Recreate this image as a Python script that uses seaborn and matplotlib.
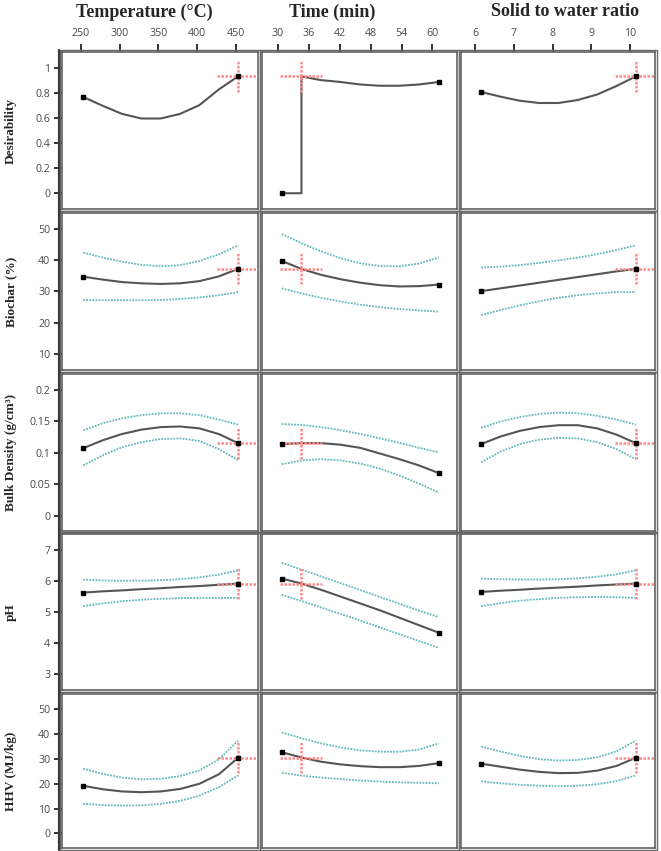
import numpy as np
import pandas as pd
import matplotlib
matplotlib.use("Agg")
import matplotlib.pyplot as plt
import seaborn as sns
from matplotlib.patches import Rectangle
from matplotlib.lines import Line2D

# --- factor settings (x grids) ---
temp_x = [253, 278, 303, 328, 353, 378, 403, 428, 453]
time_x = [30.8, 34.6, 38.4, 42.2, 46.0, 49.8, 53.6, 57.4, 61.2]
ratio_x = [6.15, 6.65, 7.15, 7.65, 8.15, 8.65, 9.15, 9.65, 10.15]
time_desir_x = [30.8, 34.6, 34.6, 38.4, 42.2, 46.0, 49.8, 53.6, 57.4, 61.2]

# --- Desirability ---
desir_temp = [0.77, 0.70, 0.635, 0.598, 0.598, 0.635, 0.705, 0.83, 0.935]
desir_time = [0.0, 0.0, 0.935, 0.905, 0.89, 0.87, 0.86, 0.86, 0.87, 0.89]
desir_ratio = [0.81, 0.773, 0.74, 0.722, 0.722, 0.746, 0.79, 0.858, 0.935]

# --- Biochar (%) ---
biochar_temp = [34.7, 33.8, 33.0, 32.6, 32.4, 32.6, 33.3, 34.8, 37.2]
biochar_temp_hi = [42.4, 40.8, 39.5, 38.5, 38.0, 38.4, 39.7, 41.8, 44.7]
biochar_temp_lo = [27.3, 27.2, 27.2, 27.2, 27.3, 27.6, 28.1, 28.8, 29.8]
biochar_time = [39.7, 37.2, 35.3, 33.9, 32.8, 32.0, 31.6, 31.7, 32.2]
biochar_time_hi = [48.3, 45.4, 42.8, 40.6, 39.0, 38.1, 38.0, 38.9, 40.8]
biochar_time_lo = [31.0, 29.4, 28.0, 26.8, 25.8, 25.0, 24.4, 24.0, 23.6]
biochar_ratio = [30.1, 31.0, 31.9, 32.8, 33.7, 34.6, 35.5, 36.4, 37.2]
biochar_ratio_hi = [37.6, 37.9, 38.4, 39.1, 39.9, 40.8, 41.9, 43.2, 44.7]
biochar_ratio_lo = [22.5, 24.1, 25.6, 26.9, 28.0, 28.8, 29.4, 29.8, 29.8]

# --- Bulk density (g/cm3) ---
bd_temp = [0.1075, 0.120, 0.130, 0.137, 0.141, 0.142, 0.139, 0.130, 0.1155]
bd_temp_hi = [0.136, 0.147, 0.155, 0.160, 0.163, 0.163, 0.160, 0.153, 0.145]
bd_temp_lo = [0.080, 0.096, 0.109, 0.117, 0.122, 0.123, 0.119, 0.106, 0.0885]
bd_time = [0.114, 0.1155, 0.1155, 0.113, 0.108, 0.099, 0.090, 0.080, 0.068]
bd_time_hi = [0.146, 0.1445, 0.141, 0.136, 0.130, 0.123, 0.116, 0.108, 0.101]
bd_time_lo = [0.082, 0.088, 0.090, 0.088, 0.083, 0.075, 0.064, 0.051, 0.037]
bd_ratio = [0.114, 0.126, 0.135, 0.141, 0.144, 0.144, 0.139, 0.129, 0.1155]
bd_ratio_hi = [0.140, 0.150, 0.157, 0.162, 0.164, 0.163, 0.159, 0.153, 0.145]
bd_ratio_lo = [0.085, 0.102, 0.114, 0.121, 0.124, 0.123, 0.117, 0.106, 0.090]

# --- pH ---
ph_temp = [5.63, 5.67, 5.70, 5.74, 5.77, 5.81, 5.84, 5.88, 5.92]
ph_temp_hi = [6.05, 6.02, 6.01, 6.01, 6.03, 6.06, 6.12, 6.21, 6.34]
ph_temp_lo = [5.19, 5.28, 5.35, 5.40, 5.43, 5.45, 5.46, 5.46, 5.46]
ph_time = [6.08, 5.92, 5.72, 5.50, 5.28, 5.06, 4.82, 4.58, 4.34]
ph_time_hi = [6.59, 6.37, 6.15, 5.93, 5.71, 5.49, 5.27, 5.05, 4.84]
ph_time_lo = [5.56, 5.36, 5.15, 4.94, 4.73, 4.51, 4.29, 4.07, 3.85]
ph_ratio = [5.65, 5.69, 5.72, 5.76, 5.79, 5.82, 5.86, 5.89, 5.92]
ph_ratio_hi = [6.08, 6.06, 6.05, 6.05, 6.06, 6.09, 6.14, 6.22, 6.35]
ph_ratio_lo = [5.19, 5.29, 5.37, 5.42, 5.46, 5.48, 5.49, 5.48, 5.46]

# --- HHV (MJ/kg) ---
hhv_temp = [19.2, 17.8, 16.9, 16.6, 16.9, 17.9, 20.0, 23.8, 30.5]
hhv_temp_hi = [26.1, 24.0, 22.5, 21.8, 22.0, 23.1, 25.4, 29.8, 37.4]
hhv_temp_lo = [11.9, 11.4, 11.2, 11.3, 11.9, 13.1, 15.2, 18.6, 23.4]
hhv_time = [32.7, 30.6, 28.9, 27.8, 27.1, 26.7, 26.7, 27.2, 28.3]
hhv_time_hi = [40.7, 38.4, 36.3, 34.6, 33.5, 32.9, 32.9, 33.8, 36.3]
hhv_time_lo = [24.4, 23.3, 22.5, 21.9, 21.3, 20.9, 20.6, 20.4, 20.2]
hhv_ratio = [28.1, 26.9, 25.7, 24.8, 24.3, 24.4, 25.3, 27.2, 30.5]
hhv_ratio_hi = [35.0, 33.0, 31.2, 29.9, 29.4, 29.6, 30.7, 33.1, 37.4]
hhv_ratio_lo = [21.0, 20.2, 19.6, 19.2, 19.0, 19.2, 19.8, 21.1, 23.4]

# optimum settings (red crosshair)
col_titles = ["Temperature (°C)", "Time (min)", "Solid to water ratio"]
col_opt = [453, 34.6, 10.15]
col_xticks = [[250, 300, 350, 400, 450], [30, 36, 42, 48, 54, 60], [6, 7, 8, 9, 10]]

row_labels = ["Desirability", "Biochar (%)", "Bulk Density (g/cm³)", "pH", "HHV (MJ/kg)"]
row_opt = [0.935, 37.2, 0.1155, 5.92, 30.5]
row_yticks = [[0, 0.2, 0.4, 0.6, 0.8, 1], [10, 20, 30, 40, 50],
              [0, 0.05, 0.1, 0.15, 0.2], [3, 4, 5, 6, 7], [0, 10, 20, 30, 40, 50]]
row_yticklabels = [["0", "0.2", "0.4", "0.6", "0.8", "1"], ["10", "20", "30", "40", "50"],
                   ["0", "0.05", "0.1", "0.15", "0.2"], ["3", "4", "5", "6", "7"],
                   ["0", "10", "20", "30", "40", "50"]]

# which curves go in each cell: (x, mean, upper, lower)
cells = [
    [(temp_x, desir_temp, None, None), (time_desir_x, desir_time, None, None),
     (ratio_x, desir_ratio, None, None)],
    [(temp_x, biochar_temp, biochar_temp_hi, biochar_temp_lo),
     (time_x, biochar_time, biochar_time_hi, biochar_time_lo),
     (ratio_x, biochar_ratio, biochar_ratio_hi, biochar_ratio_lo)],
    [(temp_x, bd_temp, bd_temp_hi, bd_temp_lo), (time_x, bd_time, bd_time_hi, bd_time_lo),
     (ratio_x, bd_ratio, bd_ratio_hi, bd_ratio_lo)],
    [(temp_x, ph_temp, ph_temp_hi, ph_temp_lo), (time_x, ph_time, ph_time_hi, ph_time_lo),
     (ratio_x, ph_ratio, ph_ratio_hi, ph_ratio_lo)],
    [(temp_x, hhv_temp, hhv_temp_hi, hhv_temp_lo), (time_x, hhv_time, hhv_time_hi, hhv_time_lo),
     (ratio_x, hhv_ratio, hhv_ratio_hi, hhv_ratio_lo)],
]

# --- layout (pixels of the 661x851 image) ---
W, H = 661, 851
col_px = [(62, 196), (262, 195), (461, 194)]
row_px = [(52, 157), (213, 157), (374, 157), (534, 156), (694, 154)]
col_lims = [(225.5, 478.7), (26.95, 64.76), (5.63, 10.645)]
row_lims = [(-0.126, 1.13), (4.99, 55.0), (-0.0243, 0.2255), (2.495, 7.515), (-5.9, 56.2)]

MEAN_C = "#555555"
CI_C = "#62baba"
OPT_C = "#ff8a8a"
FRAME_C = "#555555"
TICK_FONT = "Open Sans"
SERIF = "Liberation Serif"

sns.set_style("white")
fig = plt.figure(figsize=(W / 100, H / 100), dpi=100)


def fx(px):
    return px / W


def fy(py):
    return 1 - py / H


for r in range(5):
    top, h = row_px[r]
    for c in range(3):
        left, w = col_px[c]
        ax = fig.add_axes([fx(left), fy(top + h), w / W, h / H])
        x, mean, hi, lo = cells[r][c]

        if hi is not None:
            for band in (hi, lo):
                sns.lineplot(x=x, y=band, ax=ax, color=CI_C, lw=1.3,
                             linestyle=(0, (1, 0.7)), estimator=None, sort=False)
        sns.lineplot(x=x, y=mean, ax=ax, color=MEAN_C, lw=1.5,
                     estimator=None, sort=False)
        ax.plot([x[0], x[-1]], [mean[0], mean[-1]], ls="none", marker="s",
                ms=3.2, color="black", zorder=5)

        xlo, xhi = col_lims[c]
        ylo, yhi = row_lims[r]
        ax.set_xlim(xlo, xhi)
        ax.set_ylim(ylo, yhi)

        # red crosshair at the optimum
        ox, oy = col_opt[c], row_opt[r]
        dx = 21 / w * (xhi - xlo)
        dy = 15.5 / h * (yhi - ylo)
        ax.plot([ox - dx, ox + dx], [oy, oy], color=OPT_C, lw=1.8,
                ls=(0, (1, 0.6)), zorder=4, clip_on=True)
        ax.plot([ox, ox], [oy - dy, oy + dy], color=OPT_C, lw=1.8,
                ls=(0, (1, 0.6)), zorder=4)

        # frame: inner spine plus outer line
        for s in ax.spines.values():
            s.set_visible(True)
            s.set_color(FRAME_C)
            s.set_linewidth(1.1)
        fig.add_artist(Rectangle((fx(left - 2), fy(top + h + 2)), (w + 4) / W, (h + 4) / H,
                                 transform=fig.transFigure, fill=False,
                                 ec="#6a6a6a", lw=1.0))

        ax.set_xlabel("")
        ax.set_ylabel("")
        if r == 0:
            ax.xaxis.tick_top()
            ax.set_xticks(col_xticks[c])
            ax.tick_params(axis="x", top=True, bottom=False, length=5.5, width=1.4,
                           color="#333333", pad=3.5, labelsize=7.7, labelcolor="#4a4a4a")
            for t in ax.get_xticklabels():
                t.set_fontfamily(TICK_FONT)
        else:
            ax.set_xticks([])
        if c == 0:
            ax.set_yticks(row_yticks[r])
            ax.set_yticklabels(row_yticklabels[r], fontfamily=TICK_FONT)
            ax.tick_params(axis="y", left=True, length=6, width=1.4, color="#333333",
                           pad=2.5, labelsize=7.7, labelcolor="#4a4a4a")
        else:
            ax.set_yticks([])

    fig.text(fx(11), fy(top + h / 2), row_labels[r], rotation=90, ha="center",
             va="center", fontfamily=SERIF, fontweight="bold", fontsize=9.5)

# thick left rule of the profiler
fig.add_artist(Line2D([fx(58.8), fx(58.8)], [fy(50), fy(850)], transform=fig.transFigure,
                      color="#3a3a3a", lw=1.6))

title_x = [144.5, 332, 565]
for c in range(3):
    fig.text(fx(title_x[c]), fy(12), col_titles[c], ha="center", va="center",
             fontfamily=SERIF, fontweight="bold", fontsize=13)

fig.savefig("out.png", dpi=100)
